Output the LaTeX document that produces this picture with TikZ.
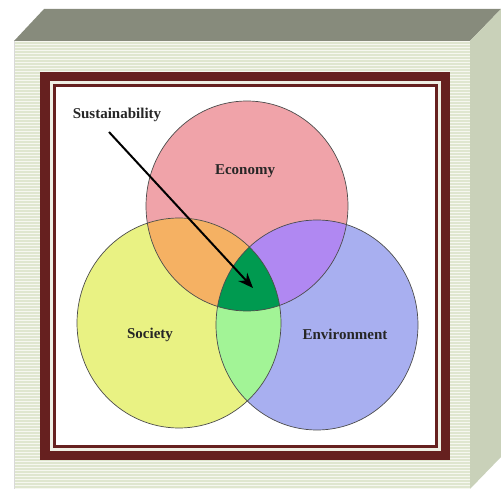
\documentclass[tikz,border=0pt]{standalone}
\usepackage{fontspec}
\setmainfont{Liberation Serif}
\usetikzlibrary{arrows.meta}

\definecolor{topface}{HTML}{878B7C}
\definecolor{sideface}{HTML}{C9D1B9}
\definecolor{frontface}{HTML}{F6F7F0}
\definecolor{stripe}{HTML}{DFE6CF}
\definecolor{maroon}{HTML}{66201F}
\definecolor{gapcol}{HTML}{EFEFE4}
\definecolor{econ}{HTML}{F0A3A9}
\definecolor{soc}{HTML}{E9F283}
\definecolor{env}{HTML}{A8AFF0}
\definecolor{econsoc}{HTML}{F5B163}
\definecolor{econenv}{HTML}{B088F2}
\definecolor{socenv}{HTML}{A2F496}
\definecolor{core}{HTML}{009A50}

\tikzset{
  label/.style={font=\fontsize{15}{18}\selectfont\bfseries, text=black!85, inner sep=0pt},
  ring/.style={draw=black!70, line width=0.7pt}
}

\newcommand{\econpath}{(247,206) ellipse [x radius=101, y radius=105]}
\newcommand{\socpath}{(179,323) ellipse [x radius=102, y radius=105]}
\newcommand{\envpath}{(317,325) ellipse [x radius=101, y radius=105]}

\begin{document}
\begin{tikzpicture}[x=1pt, y=-1pt]
\useasboundingbox (0,0) rectangle (501,489);
% box
\fill[topface] (14,41) -- (44,9) -- (501,9) -- (470,41) -- cycle;
\fill[sideface] (470,41) -- (501,9) -- (501,457) -- (470,489) -- cycle;
\fill[frontface] (14,41) rectangle (470,489);
\foreach \y in {43,46,...,487}
  \draw[stripe, line width=1.3pt] (14,\y) -- (470,\y);
\draw[black!15, line width=0.6pt] (14,41) -- (14,489);
% frame
\fill[maroon] (40,72) rectangle (450,460);
\fill[gapcol] (49.5,81.5) rectangle (440.5,450.5);
\draw[maroon, line width=3pt] (54,86) rectangle (436,446);
\fill[white] (55.5,87.5) rectangle (434.5,444.5);
% circles
\fill[econ] \econpath;
\fill[soc] \socpath;
\fill[env] \envpath;
\begin{scope}
  \clip \econpath;
  \fill[econsoc] \socpath;
  \fill[econenv] \envpath;
\end{scope}
\begin{scope}
  \clip \socpath;
  \fill[socenv] \envpath;
  \clip \envpath;
  \fill[core] \econpath;
\end{scope}
\draw[ring] \econpath;
\draw[ring] \socpath;
\draw[ring] \envpath;
% labels
\node[label] (sust) at (117,115) {Sustainability};
\node[label] (economy) at (245,171) {Economy};
\node[label] (society) at (150,335) {Society};
\node[label] (environment) at (345,334) {Environment};
\coordinate (arrstart) at (109,132);
\coordinate (arrtip) at (253,288);
\draw[-{Stealth[length=15pt, width=12pt]}, line width=2pt] (arrstart) -- (arrtip);
\end{tikzpicture}
\end{document}
